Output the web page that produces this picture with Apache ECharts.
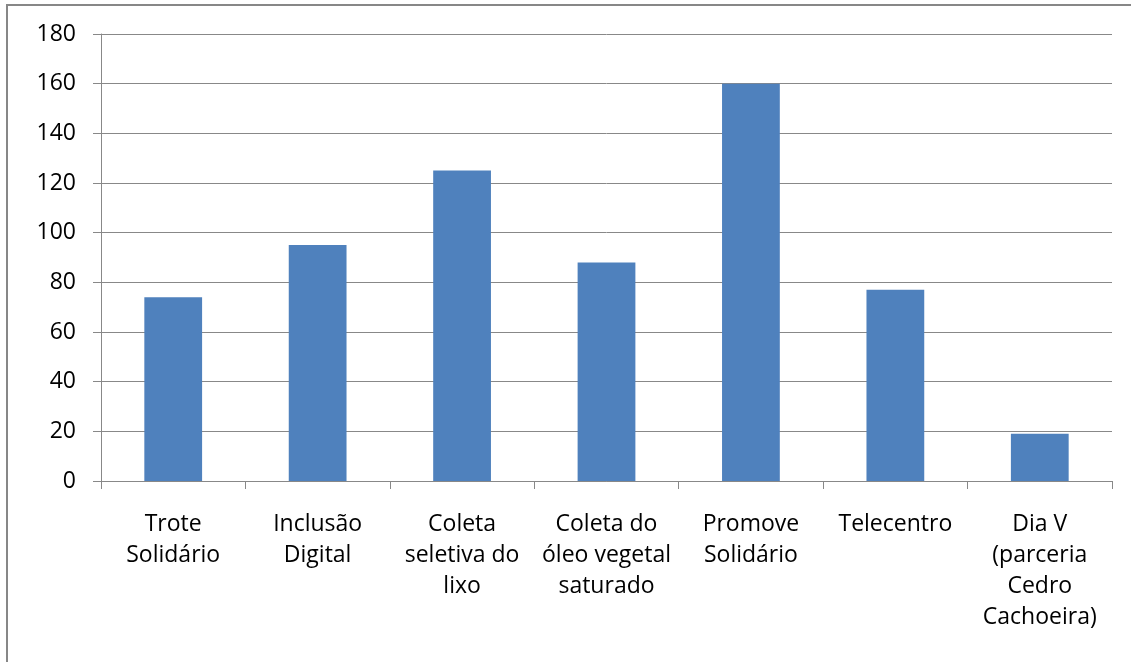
<!DOCTYPE html>
<html>
<head>
<meta charset="utf-8">
<script src="https://cdn.jsdelivr.net/npm/echarts@6/dist/echarts.min.js"></script>
<style>html,body{margin:0;padding:0;background:#fff}#c{width:1131px;height:662px}</style>
</head>
<body>
<div id="c"></div>
<script>
var categories = ['Trote\nSolidário', 'Inclusão\nDigital', 'Coleta\nseletiva do\nlixo', 'Coleta do\nóleo vegetal\nsaturado', 'Promove\nSolidário', 'Telecentro', 'Dia V\n(parceria\nCedro\nCachoeira)'];
var values = [74, 95, 125, 88, 160, 77, 19];
var yTicks = [0, 20, 40, 60, 80, 100, 120, 140, 160, 180];

var chart = echarts.init(document.getElementById('c'));
var font = '"Open Sans", sans-serif';
chart.setOption({
  animation: false,
  graphic: [{
    type: 'rect', silent: true,
    shape: { x: 7, y: 5, width: 1200, height: 700 },
    style: { fill: 'none', stroke: '#878787', lineWidth: 2 }
  }],
  grid: { left: 101, right: 19, top: 34, bottom: 181, containLabel: false },
  xAxis: {
    type: 'category',
    data: categories,
    axisLine: { lineStyle: { color: '#888888', width: 1 } },
    axisTick: { show: true, length: 8, alignWithLabel: false, lineStyle: { color: '#888888' } },
    axisLabel: { color: '#000', fontSize: 23, fontFamily: font, lineHeight: 31, margin: 28, interval: 0 }
  },
  yAxis: {
    type: 'value',
    min: yTicks[0], max: yTicks[yTicks.length - 1], interval: 20,
    axisLine: { show: true, lineStyle: { color: '#888888', width: 1 } },
    axisTick: { show: true, length: 8, lineStyle: { color: '#888888' } },
    axisLabel: { color: '#000', fontSize: 23, fontFamily: font, margin: 25 },
    splitLine: { show: true, lineStyle: { color: '#888888', width: 1 } }
  },
  series: [{
    type: 'bar',
    data: values,
    barWidth: '40%',
    itemStyle: { color: '#4F81BD' }
  }]
});
</script>
</body>
</html>
